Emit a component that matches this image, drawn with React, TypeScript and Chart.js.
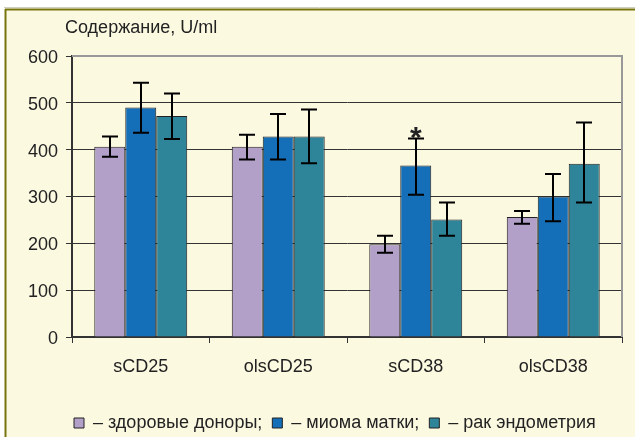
import React, { useEffect, useRef } from "react";
import { Chart, registerables } from "chart.js";

Chart.register(...registerables);

const categories = ["sCD25", "olsCD25", "sCD38", "olsCD38"];
const seriesNames = ["– здоровые доноры;", "– миома матки;", "– рак эндометрия"];
const healthy = [406, 406, 198, 256];
const healthyHi = [428, 432, 216, 269];
const healthyLo = [385, 379, 180, 242];
const myoma = [490, 428, 366, 300];
const myomaHi = [543, 476, 424, 348];
const myomaLo = [436, 379, 304, 247];
const cancer = [472, 428, 251, 370];
const cancerHi = [520, 486, 287, 458];
const cancerLo = [423, 371, 216, 287];
const yMin = 0;
const yMax = 600;
const yStep = 100;
const axisTitle = "Содержание, U/ml";
const starMark = { dataset: 1, index: 2, text: "*" };

const FONT = '"Liberation Sans", Arial, sans-serif';
const FS = 18;
const BG = "#fcf9e1";
const TEXT = "#222222";

const frameAndDecor = {
  id: "frameAndDecor",
  afterLayout(chart: any) {
    const lg = chart.legend;
    if (lg) {
      lg.left = 64;
      lg.top += 5;
      lg.bottom += 5;
    }
  },
  beforeDraw(chart: any) {
    const ctx = chart.ctx;
    const w = chart.width;
    const h = chart.height;
    ctx.save();
    ctx.fillStyle = "#ffffff";
    ctx.fillRect(0, 0, w, h);
    ctx.fillStyle = BG;
    ctx.fillRect(5, 9, w - 5, h - 9);
    ctx.strokeStyle = "#cfcfc0";
    ctx.lineWidth = 1;
    ctx.beginPath();
    ctx.moveTo(4, 7.5);
    ctx.lineTo(w, 7.5);
    ctx.stroke();
    ctx.strokeStyle = "#78750f";
    ctx.lineWidth = 2;
    ctx.beginPath();
    ctx.moveTo(5, 9.5);
    ctx.lineTo(w, 9.5);
    ctx.moveTo(5.5, 9);
    ctx.lineTo(5.5, h);
    ctx.stroke();
    ctx.fillStyle = TEXT;
    ctx.font = `${FS}px ${FONT}`;
    ctx.textBaseline = "alphabetic";
    ctx.textAlign = "left";
    ctx.fillText(axisTitle, 65, 33);
    ctx.restore();
  },
  afterDraw(chart: any) {
    const ctx = chart.ctx;
    const a = chart.chartArea;
    ctx.save();
    ctx.strokeStyle = "#999999";
    ctx.lineWidth = 2;
    ctx.beginPath();
    ctx.moveTo(a.left, a.top);
    ctx.lineTo(a.right, a.top);
    ctx.lineTo(a.right, a.bottom);
    ctx.stroke();
    ctx.restore();
  },
};

const errorBars = {
  id: "errorBars",
  afterDatasetsDraw(chart: any) {
    const ctx = chart.ctx;
    const yScale = chart.scales.y;
    ctx.save();
    ctx.strokeStyle = "#000000";
    ctx.lineWidth = 2;
    chart.data.datasets.forEach((ds: any, i: number) => {
      const meta = chart.getDatasetMeta(i);
      meta.data.forEach((el: any, j: number) => {
        const x = Math.round(el.x);
        const yHi = yScale.getPixelForValue(ds.errHi[j]);
        const yLo = yScale.getPixelForValue(ds.errLo[j]);
        const cap = 8;
        ctx.beginPath();
        ctx.moveTo(x, yHi);
        ctx.lineTo(x, yLo);
        ctx.moveTo(x - cap, yHi);
        ctx.lineTo(x + cap, yHi);
        ctx.moveTo(x - cap, yLo);
        ctx.lineTo(x + cap, yLo);
        ctx.stroke();
      });
    });
    const ds = chart.data.datasets[starMark.dataset];
    const el = chart.getDatasetMeta(starMark.dataset).data[starMark.index];
    const yTop = yScale.getPixelForValue(ds.errHi[starMark.index]);
    ctx.fillStyle = TEXT;
    ctx.font = `bold 30px ${FONT}`;
    ctx.textAlign = "center";
    ctx.textBaseline = "alphabetic";
    ctx.fillText(starMark.text, el.x, yTop + 9);
    ctx.restore();
  },
};

export default function App() {
  const ref = useRef<HTMLCanvasElement | null>(null);
  useEffect(() => {
    document.body.style.margin = "0";
    const canvas = ref.current;
    if (!canvas) return;
    const common = {
      borderColor: "#222222",
      borderWidth: 1,
      barPercentage: 1,
      categoryPercentage: 0.676,
    };
    const chart = new Chart(canvas, {
      type: "bar",
      data: {
        labels: categories,
        datasets: [
          { label: seriesNames[0], data: healthy, errHi: healthyHi, errLo: healthyLo, backgroundColor: "#b3a0c9", ...common } as any,
          { label: seriesNames[1], data: myoma, errHi: myomaHi, errLo: myomaLo, backgroundColor: "#146fb8", ...common } as any,
          { label: seriesNames[2], data: cancer, errHi: cancerHi, errLo: cancerLo, backgroundColor: "#2e8499", ...common } as any,
        ],
      },
      options: {
        responsive: false,
        animation: false,
        devicePixelRatio: 1,
        font: { family: FONT, size: FS },
        color: TEXT,
        layout: { padding: { left: 20, right: 13, top: 56, bottom: 0 } },
        plugins: {
          title: { display: false },
          tooltip: { enabled: false },
          legend: {
            display: true,
            position: "bottom",
            align: "start",
            labels: {
              boxWidth: 10,
              boxHeight: 10,
              padding: 10,
              color: TEXT,
              font: { family: FONT, size: FS },
            },
          },
        },
        scales: {
          x: {
            offset: true,
            afterFit(scale: any) {
              scale.height = 62;
            },
            grid: {
              offset: true,
              drawOnChartArea: false,
              drawTicks: true,
              tickLength: 6,
              tickColor: "#333333",
              tickWidth: 1,
            },
            border: { display: true, color: "#333333", width: 2 },
            ticks: { color: TEXT, padding: 13, font: { family: FONT, size: FS } },
          },
          y: {
            min: yMin,
            max: yMax,
            afterFit(scale: any) {
              scale.width = 52;
            },
            grid: {
              display: true,
              drawOnChartArea: true,
              color: (c: any) => (c.tick && c.tick.value === yMax ? "#999999" : "#333333"),
              lineWidth: 1,
              drawTicks: true,
              tickLength: 6,
              tickColor: "#333333",
            },
            border: { display: true, color: "#333333", width: 2 },
            ticks: { stepSize: yStep, color: TEXT, padding: 8, labelOffset: 2, font: { family: FONT, size: FS } },
          },
        },
      },
      plugins: [frameAndDecor, errorBars],
    } as any);
    return () => chart.destroy();
  }, []);
  return <canvas ref={ref} width={635} height={437} style={{ display: "block" }} />;
}
